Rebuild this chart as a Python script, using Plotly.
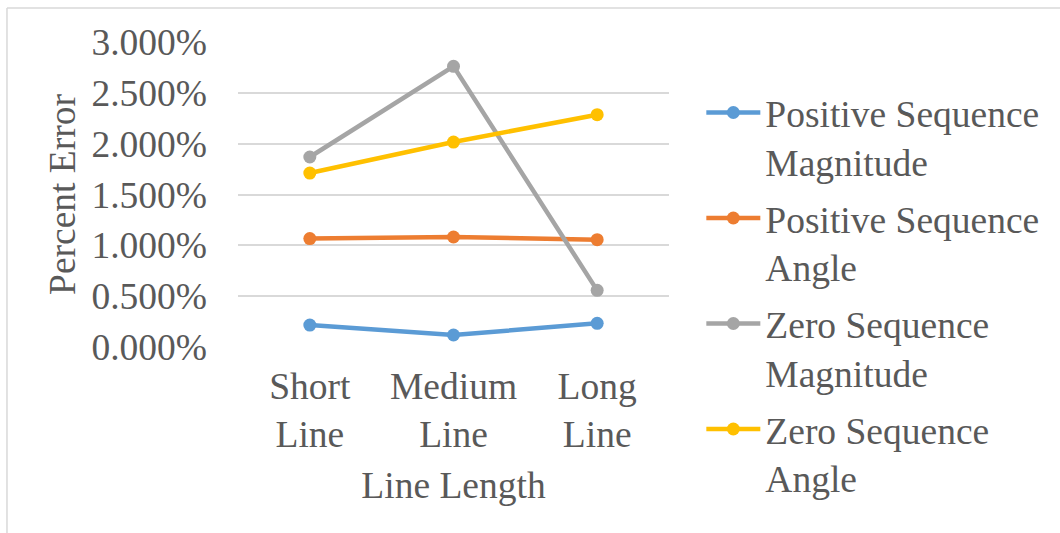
import plotly.graph_objects as go

# Line-length categories (two-line tick labels)
categories = ["Short<br>Line", "Medium<br>Line", "Long<br>Line"]

# Percent error per category (in %)
pos_seq_magnitude = [0.216, 0.118, 0.233]
pos_seq_angle = [1.066, 1.082, 1.056]
zero_seq_magnitude = [1.869, 2.761, 0.557]
zero_seq_angle = [1.711, 2.016, 2.285]

y_ticks = [0.0, 0.5, 1.0, 1.5, 2.0, 2.5, 3.0]
y_tick_text = ["0.000%", "0.500%", "1.000%", "1.500%", "2.000%", "2.500%", "3.000%"]

series = [
    ("Positive Sequence<br>Magnitude", pos_seq_magnitude, "#5B9BD5"),
    ("Positive Sequence<br>Angle", pos_seq_angle, "#ED7D31"),
    ("Zero Sequence<br>Magnitude", zero_seq_magnitude, "#A5A5A5"),
    ("Zero Sequence<br>Angle", zero_seq_angle, "#FFC000"),
]

FONT = "Liberation Serif, Times New Roman, serif"
TEXT = "#595959"
FS = 37.5

fig = go.Figure()
for i, (name, vals, color) in enumerate(series):
    fig.add_trace(go.Scatter(
        x=categories, y=vals, name=name, mode="lines+markers",
        legendgroup=f"g{i}",
        line=dict(color=color, width=4.5),
        marker=dict(color=color, size=13),
    ))

fig.update_layout(
    width=1060, height=533,
    margin=dict(l=238, r=391, t=42, b=186),
    paper_bgcolor="white", plot_bgcolor="white",
    font=dict(family=FONT, size=FS, color=TEXT),
    showlegend=True,
    legend=dict(
        x=1.075, y=0.87, xanchor="left", yanchor="top",
        font=dict(family=FONT, size=FS, color=TEXT),
        valign="top", tracegroupgap=5, itemwidth=54,
        maxheight=520, bgcolor="rgba(0,0,0,0)",
    ),
    xaxis=dict(
        type="category", range=[-0.5, 2.5],
        showgrid=False, zeroline=False, showline=False,
        ticks="", ticklabelstandoff=13,
        tickfont=dict(family=FONT, size=FS, color=TEXT),
        title=dict(text="Line Length", standoff=17,
                   font=dict(family=FONT, size=FS, color=TEXT)),
    ),
    yaxis=dict(
        range=[0, 3.0], tickvals=y_ticks, ticktext=y_tick_text,
        showgrid=True, gridcolor="#D9D9D9", gridwidth=1.5,
        zeroline=False, showline=False, ticks="",
        ticklabelstandoff=30,
        tickfont=dict(family=FONT, size=FS, color=TEXT),
        title=dict(text="Percent Error", standoff=4,
                   font=dict(family=FONT, size=FS, color=TEXT)),
    ),
    shapes=[
        # chart-area frame (top and left edges)
        dict(type="line", xref="paper", yref="paper",
             x0=-0.536, x1=1.91, y0=1.1115, y1=1.1115,
             line=dict(color="#D9D9D9", width=1.5)),
        dict(type="line", xref="paper", yref="paper",
             x0=-0.536, x1=-0.536, y0=1.1115, y1=-0.62,
             line=dict(color="#D9D9D9", width=1.5)),
    ],
)

fig.write_html("out.html")
